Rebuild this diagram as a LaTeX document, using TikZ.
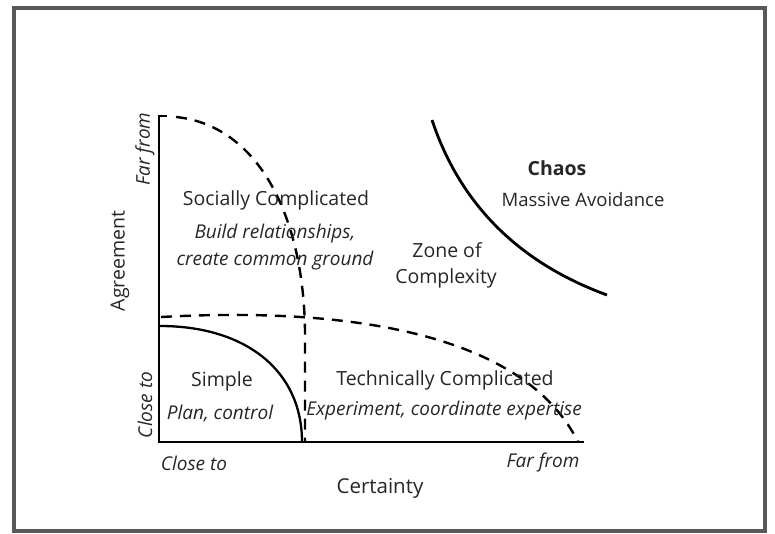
\documentclass[tikz,border=0pt]{standalone}
\usepackage{fontspec}
\setmainfont{Open Sans}
\begin{document}
\begin{tikzpicture}[x=1pt,y=-1pt,
  lbl/.style={font=\fontsize{19.5}{22}\selectfont, text=black!85, inner sep=0pt},
  sub/.style={font=\fontsize{19}{22}\selectfont\itshape, text=black!85, inner sep=0pt},
  axlbl/.style={font=\fontsize{19}{22}\selectfont\itshape, text=black!85, inner sep=0pt},
  dsh/.style={line width=2.4pt, dash pattern=on 11pt off 8pt},
  sld/.style={line width=2.3pt}]
\useasboundingbox (0,0) rectangle (775,533);
\draw[line width=4pt, black!65] (14,8) rectangle (765,531);
% axes
\coordinate (top) at (159,116);
\coordinate (org) at (159,442);
\coordinate (xend) at (584,442);
\coordinate (tick) at (167,116);
\draw[sld] (tick) -- (top) -- (org) -- (xend);
% dashed curve: socially complicated boundary
\coordinate (s1) at (176,117);
\coordinate (s2) at (305,330);
\coordinate (s3) at (305,442);
\draw[dsh] (s1) .. controls (255,125) and (303,210) .. (s2) -- (s3);
% dashed curve: technically complicated boundary
\coordinate (t1) at (161,317);
\coordinate (t2) at (578,442);
\draw[dsh] (t1) .. controls (380,305) and (530,345) .. (t2);
% simple
\coordinate (p1) at (160,326);
\coordinate (p2) at (302,442);
\draw[sld] (p1) .. controls (245,326) and (302,370) .. (p2);
% chaos
\coordinate (c1) at (432,120);
\coordinate (c2) at (607,295);
\draw[line width=2.8pt] (c1) .. controls (462,210) and (525,265) .. (c2);
% labels
\node[axlbl, rotate=90] (farY) at (145,149) {Far from};
\node[axlbl, rotate=90] (closeY) at (145,405) {Close to};
\node[lbl, rotate=90] (agr) at (120,261) {Agreement};
\node[axlbl] (closeX) at (194,463) {Close to};
\node[axlbl] (farX) at (543,463) {Far from};
\node[lbl, font=\fontsize{20.5}{22}\selectfont] (cert) at (380,488) {Certainty};
\node[lbl] (soc) at (276,200) {Socially Complicated};
\node[sub] (soc1) at (275,234) {Build relationships,};
\node[sub] (soc2) at (275,261) {create common ground};
\node[lbl] (zone1) at (447,250) {Zone of};
\node[lbl] (zone2) at (446,278) {Complexity};
\node[lbl, font=\fontsize{19.5}{22}\selectfont\bfseries] (chaos) at (557,168) {Chaos};
\node[lbl, font=\fontsize{18.5}{22}\selectfont] (chaos1) at (583,200) {Massive Avoidance};
\node[lbl] (simp) at (222,381) {Simple};
\node[sub] (simp1) at (220,413) {Plan, control};
\node[lbl] (tech) at (445,380) {Technically Complicated};
\node[sub] (tech1) at (444,411) {Experiment, coordinate expertise};
\end{tikzpicture}
\end{document}
